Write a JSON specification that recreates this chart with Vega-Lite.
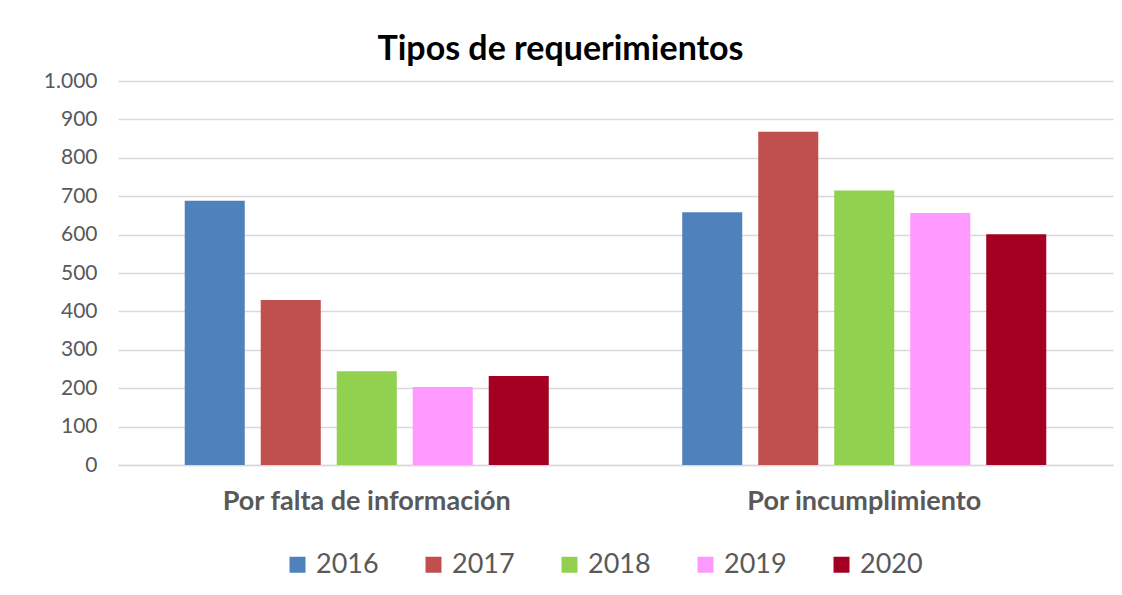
{
  "$schema": "https://vega.github.io/schema/vega-lite/v6.json",
  "autosize": {"type": "none"},
  "width": 995,
  "height": 384,
  "padding": {"left": 118, "top": 81, "right": 9, "bottom": 130},
  "background": "white",
  "config": {
    "locale": {"number": {"decimal": ",", "thousands": ".", "grouping": [3], "currency": ["", " €"]}},
    "view": {"stroke": null},
    "font": "Lato"
  },
  "title": {
    "text": "Tipos de requerimientos",
    "fontSize": 34,
    "fontWeight": "bold",
    "font": "Lato",
    "color": "#000000",
    "anchor": "middle",
    "dx": -55,
    "offset": 3
  },
  "data": {
    "values": [
      {"tipo": "Por falta de información", "anio": "2016", "valor": 688},
      {"tipo": "Por falta de información", "anio": "2017", "valor": 430},
      {"tipo": "Por falta de información", "anio": "2018", "valor": 244},
      {"tipo": "Por falta de información", "anio": "2019", "valor": 203},
      {"tipo": "Por falta de información", "anio": "2020", "valor": 232},
      {"tipo": "Por incumplimiento", "anio": "2016", "valor": 658},
      {"tipo": "Por incumplimiento", "anio": "2017", "valor": 868},
      {"tipo": "Por incumplimiento", "anio": "2018", "valor": 715},
      {"tipo": "Por incumplimiento", "anio": "2019", "valor": 656},
      {"tipo": "Por incumplimiento", "anio": "2020", "valor": 601}
    ]
  },
  "mark": {"type": "bar"},
  "encoding": {
    "x": {
      "field": "tipo",
      "type": "nominal",
      "sort": null,
      "scale": {"paddingInner": 0, "paddingOuter": 0},
      "axis": {
        "title": null,
        "labelAngle": 0,
        "labelFontSize": 27,
        "labelFontWeight": "bold",
        "labelColor": "#595959",
        "labelPadding": 23,
        "labelLimit": 0,
        "ticks": false,
        "domainColor": "#d9d9d9",
        "domainWidth": 1.5
      }
    },
    "xOffset": {
      "field": "anio",
      "type": "nominal",
      "scale": {"paddingInner": 0.21, "paddingOuter": 0.878}
    },
    "y": {
      "field": "valor",
      "type": "quantitative",
      "scale": {"domain": [0, 1000]},
      "axis": {
        "title": null,
        "values": [0, 100, 200, 300, 400, 500, 600, 700, 800, 900, 1000],
        "format": ",d",
        "labelFontSize": 21,
        "labelColor": "#595959",
        "labelPadding": 21,
        "ticks": false,
        "domain": false,
        "gridColor": "#d9d9d9",
        "gridWidth": 1.5
      }
    },
    "color": {
      "field": "anio",
      "type": "nominal",
      "scale": {
        "domain": ["2016", "2017", "2018", "2019", "2020"],
        "range": ["#4f81bd", "#c0504d", "#92d050", "#ff99ff", "#a50021"]
      },
      "legend": {
        "title": null,
        "orient": "none",
        "direction": "horizontal",
        "legendX": 166,
        "legendY": 470,
        "symbolType": "square",
        "symbolSize": 256,
        "symbolStrokeWidth": 0,
        "symbolOpacity": 1,
        "labelFontSize": 27,
        "labelColor": "#595959",
        "labelOffset": 5,
        "columnPadding": 41
      }
    }
  }
}
